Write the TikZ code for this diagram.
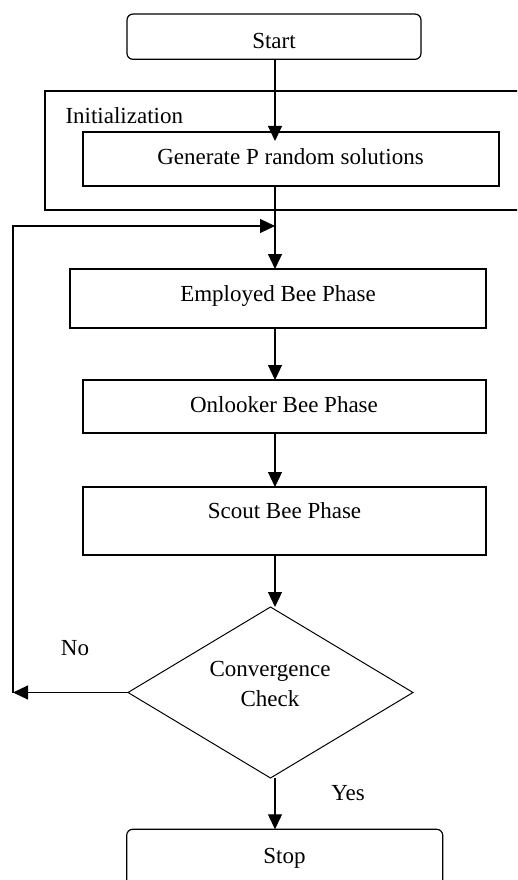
\documentclass[tikz,border=0pt]{standalone}
\usepackage{fontspec}
\setmainfont{Liberation Serif}
\usetikzlibrary{arrows.meta,shapes.geometric}
\begin{document}
\begin{tikzpicture}[x=1pt,y=-1pt,
  every node/.style={inner sep=0pt, outer sep=0pt},
  txt/.style={font=\fontsize{23}{27}\selectfont, anchor=base},
  box/.style={draw, line width=1.2pt, rectangle},
  terminal/.style={box, rounded corners=6pt},
  flow/.style={line width=1.2pt, -{Triangle[length=15pt,width=14pt]}},
  plain/.style={line width=1.2pt}]

\useasboundingbox (0,0) rectangle (517,880);
\clip (0,0) rectangle (517,880);

% spine of the main flow
\coordinate (spine) at (275,0);

% boxes
\node[terminal, minimum width=294pt, minimum height=45.3pt] (start) at (274,36.7) {};
\node[box, minimum width=515pt, minimum height=119pt] (initframe) at (302.5,150.5) {};
\node[box, minimum width=416pt, minimum height=54pt] (gen) at (291,159) {};
\node[box, minimum width=416pt, minimum height=59pt] (emp) at (278,298.5) {};
\node[box, minimum width=403pt, minimum height=53pt] (onl) at (284.5,406.5) {};
\node[box, minimum width=403pt, minimum height=68pt] (scout) at (284.5,521) {};
\node[draw, line width=1pt, diamond, minimum width=285pt, minimum height=171pt] (check) at (270.5,692.5) {};
\node[terminal, minimum width=316pt, minimum height=60pt] (stop) at (284.7,859.3) {};

% texts
\node[txt] (starttxt) at (274,48.3) {Start};
\node[txt, anchor=base west] (inittxt) at (65.5,124) {Initialization};
\node[txt] (gentxt) at (290.5,164.3) {Generate P random solutions};
\node[txt] (emptxt) at (278,301) {Employed Bee Phase};
\node[txt] (onltxt) at (284,412.5) {Onlooker Bee Phase};
\node[txt] (scouttxt) at (284.5,518.3) {Scout Bee Phase};
\node[txt] (convtxt) at (270,676.7) {Convergence};
\node[txt] (checktxt) at (270,706.7) {Check};
\node[txt] (notxt) at (75,655.7) {No};
\node[txt] (yestxt) at (348,800) {Yes};
\node[txt] (stoptxt) at (284.5,863.3) {Stop};

% loop points
\coordinate (noturn) at (13,692.5);
\coordinate (merge) at (275,226);

% connectors
\draw[flow, shorten >=-9pt] (start.south -| spine) -- (gen.north -| spine);
\draw[flow] (gen.south -| spine) -- (emp.north -| spine);
\draw[flow] (emp.south -| spine) -- (onl.north -| spine);
\draw[flow] (onl.south -| spine) -- (scout.north -| spine);
\draw[flow] (scout.south -| spine) -- (check.north -| spine);
\draw[flow] (check.south -| spine) -- (stop.north -| spine);
\draw[flow] (check.west) -- (noturn);
\draw[flow] (noturn) |- (merge);

\end{tikzpicture}
\end{document}
